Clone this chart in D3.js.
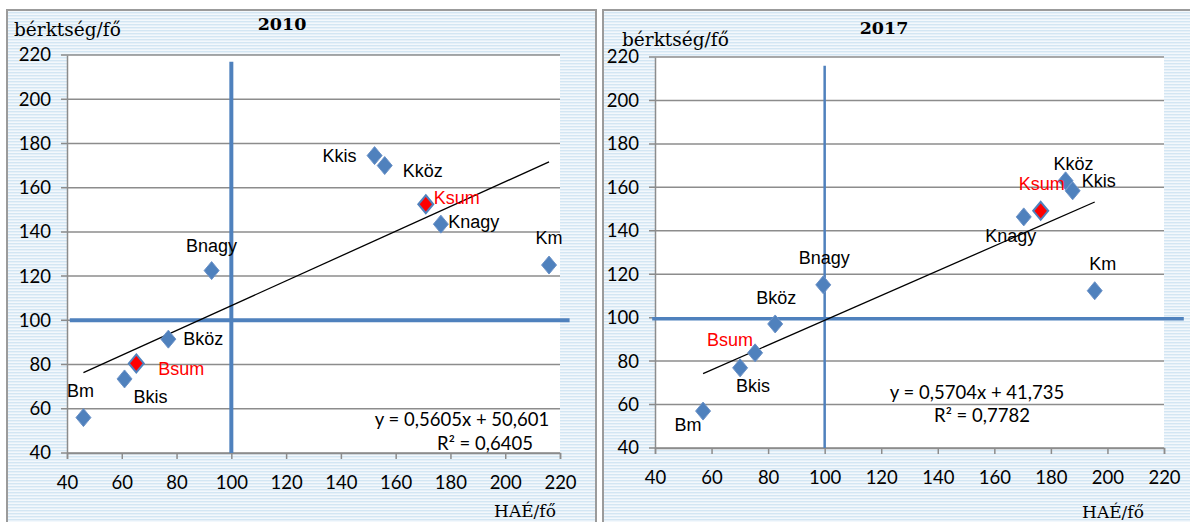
<!DOCTYPE html>
<html><head><meta charset="utf-8">
<script src="https://cdn.jsdelivr.net/npm/d3@7"></script>
<style>body{margin:0;background:#fff}svg{display:block}</style>
</head><body>
<svg id="c" width="1190" height="522"></svg>
<script>
// ---- data ----
const categories = ["Bm","Bkis","Bsum","Bköz","Bnagy","Kkis","Kköz","Ksum","Knagy","Km"];
const x2010 = [46, 61, 65.3, 77, 92.8, 152.3, 156, 171, 176.5, 216];
const y2010 = [56, 73.5, 80.5, 91.5, 122.5, 174.5, 170, 152.5, 143.5, 125];
const x2017 = [57, 70.1, 75.4, 82.5, 99.5, 187.7, 185.2, 176.4, 170.4, 195.5];
const y2017 = [57, 76.9, 83.8, 97.1, 115.1, 158.4, 163, 149.2, 146.4, 112.4];
const xTicks = [40, 60, 80, 100, 120, 140, 160, 180, 200, 220];
const yTicks = [40, 60, 80, 100, 120, 140, 160, 180, 200, 220];
const years = ["2010", "2017"];
const trendSlope = [0.5605, 0.5704];
const trendIntercept = [50.601, 41.735];
const rSquared = ["0,6405", "0,7782"];
const equationText = ["y = 0,5605x + 50,601", "y = 0,5704x + 41,735"];
const refX = [100, 100];          // vertical reference value
const refY = [100, 99.5];         // horizontal reference value
const refVTop = [217, 216];       // vertical reference line reaches up to
const refHSpan = [[41, 223.5], [39, 227]]; // horizontal reference line x-span
const yTitle = "bérktség/fő";
const xTitle = "HAÉ/fő";

// ---- layout (not data) ----
const panels = [
  {bx:7, by:10, bw:589, bh:530, px0:67, px1:560, py0:55, py1:453,
   title:[282,24], yt:[14,29], xt:[525,511], eq:[462,419], r2:[485,443], redMarkers:["Bsum","Ksum"], refW:[4,4],
   off:{Bm:[-3,-27],Bkis:[26,18],Bsum:[45,6],"Bköz":[35,0],Bnagy:[0,-25],Kkis:[-35,0],"Kköz":[38,5],Ksum:[31,-6],Knagy:[33,-2],Km:[0,-27]}},
  {bx:603, by:10, bw:600, bh:530, px0:655, px1:1164, py0:57, py1:448,
   title:[884,28], yt:[622,39], xt:[1113,512], eq:[977,392], r2:[982,415], redMarkers:["Ksum"], refW:[2.5,3.5],
   off:{Bm:[-15,14],Bkis:[13,18],Bsum:[-25,-13],"Bköz":[1,-26],Bnagy:[1,-27],Kkis:[26,-10],"Kköz":[8,-17],Ksum:[1,-27],Knagy:[-13,19],Km:[8,-27]}}
];
const xs = [x2010, x2017], ys = [y2010, y2017];

const svg = d3.select("#c");
const defs = svg.append("defs");
const pat = defs.append("pattern").attr("id","stripes").attr("patternUnits","userSpaceOnUse")
  .attr("width",10).attr("height",3);
pat.append("rect").attr("width",10).attr("height",3).attr("fill","#f3f8fc");
pat.append("rect").attr("width",10).attr("height",1.4).attr("fill","#d3e6f3");

const blue = "#4f81bd";
const axisCol = "#8c8c8c";
const numFont = "Lato, sans-serif";
const serif = "'DejaVu Serif', serif";

panels.forEach((p, i) => {
  const g = svg.append("g");
  const x = d3.scaleLinear().domain([40,220]).range([p.px0, p.px1]);
  const y = d3.scaleLinear().domain([40,220]).range([p.py1, p.py0]);

  g.append("rect").attr("x",p.bx).attr("y",p.by).attr("width",p.bw).attr("height",p.bh)
    .attr("fill","url(#stripes)").attr("stroke","#9b9b9b").attr("stroke-width",2);
  g.append("rect").attr("x",p.px0).attr("y",p.py0).attr("width",p.px1-p.px0).attr("height",p.py1-p.py0)
    .attr("fill","#fff");

  // gridlines
  g.append("g").selectAll("line").data(yTicks).join("line")
    .attr("x1",p.px0-6).attr("x2",p.px1).attr("y1",d=>y(d)).attr("y2",d=>y(d))
    .attr("stroke",axisCol).attr("stroke-width",1.5);

  // axes
  const ya = d3.axisLeft(y).tickValues(yTicks).tickSize(0).tickPadding(16).tickFormat(d3.format("d"));
  const yg = g.append("g").attr("transform",`translate(${p.px0},0)`).call(ya);
  yg.select(".domain").attr("stroke",axisCol).attr("stroke-width",1.5);
  yg.selectAll("text").attr("font-family",numFont).attr("font-size",18.5).attr("fill","#000");

  const xa = d3.axisBottom(x).tickValues(xTicks).tickSize(6).tickPadding(17).tickFormat(d3.format("d"));
  const xg = g.append("g").attr("transform",`translate(0,${p.py1})`).call(xa);
  xg.select(".domain").attr("stroke",axisCol).attr("stroke-width",1.5);
  xg.selectAll(".tick line").attr("stroke",axisCol).attr("stroke-width",1.5);
  xg.selectAll("text").attr("font-family",numFont).attr("font-size",18.5).attr("fill","#000");

  // reference lines
  g.append("line").attr("x1",x(refX[i])).attr("x2",x(refX[i])).attr("y1",y(40)).attr("y2",y(refVTop[i]))
    .attr("stroke",blue).attr("stroke-width",p.refW[0]);
  g.append("line").attr("x1",x(refHSpan[i][0])).attr("x2",x(refHSpan[i][1])).attr("y1",y(refY[i])).attr("y2",y(refY[i]))
    .attr("stroke",blue).attr("stroke-width",p.refW[1]);

  // trend line
  const xmin = d3.min(xs[i]), xmax = d3.max(xs[i]);
  g.append("line").attr("x1",x(xmin)).attr("x2",x(xmax))
    .attr("y1",y(trendSlope[i]*xmin+trendIntercept[i])).attr("y2",y(trendSlope[i]*xmax+trendIntercept[i]))
    .attr("stroke","#000").attr("stroke-width",1.3);

  // markers
  const pts = categories.map((c,k)=>({c, x:xs[i][k], y:ys[i][k]}));
  const diamond = "M0,-9L7.5,0L0,9L-7.5,0Z";
  g.append("g").selectAll("path").data(pts).join("path")
    .attr("d",diamond).attr("transform",d=>`translate(${x(d.x)},${y(d.y)})`)
    .attr("fill",d=>p.redMarkers.includes(d.c)?"#ff0000":blue)
    .attr("stroke",d=>p.redMarkers.includes(d.c)?blue:"#6d93c8").attr("stroke-width",d=>p.redMarkers.includes(d.c)?2:1);

  // labels
  g.append("g").selectAll("text").data(pts).join("text")
    .attr("x",d=>x(d.x)+p.off[d.c][0]).attr("y",d=>y(d.y)+p.off[d.c][1])
    .attr("text-anchor","middle").attr("dominant-baseline","central")
    .attr("font-family","'Liberation Sans', Arial, sans-serif").attr("font-size",18)
    .attr("fill",d=>d.c.endsWith("sum")?"#ff0000":"#000").text(d=>d.c);

  // equation
  g.append("text").attr("x",p.eq[0]).attr("y",p.eq[1]).attr("text-anchor","middle").attr("dominant-baseline","central")
    .attr("font-family",numFont).attr("font-size",18.5).text(equationText[i]);
  g.append("text").attr("x",p.r2[0]).attr("y",p.r2[1]).attr("text-anchor","middle").attr("dominant-baseline","central")
    .attr("font-family",numFont).attr("font-size",18.5).text("R² = " + rSquared[i]);

  // titles
  g.append("text").attr("x",p.title[0]).attr("y",p.title[1]).attr("text-anchor","middle").attr("dominant-baseline","central")
    .attr("font-family",serif).attr("font-weight","bold").attr("font-size",17.5).text(years[i]);
  g.append("text").attr("x",p.yt[0]).attr("y",p.yt[1]).attr("dominant-baseline","central")
    .attr("font-family",serif).attr("font-size",18.5).text(yTitle);
  g.append("text").attr("x",p.xt[0]).attr("y",p.xt[1]).attr("text-anchor","middle").attr("dominant-baseline","central")
    .attr("font-family",serif).attr("font-size",17).text(xTitle);
});
</script>
</body></html>
